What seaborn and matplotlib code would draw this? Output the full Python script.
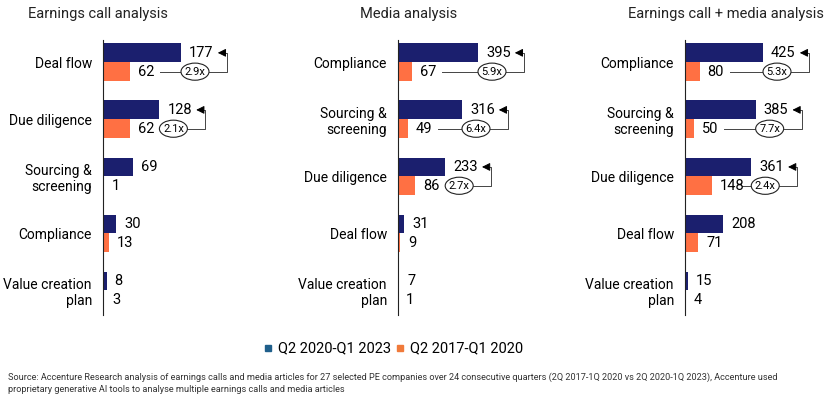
import matplotlib
matplotlib.use("Agg")
import matplotlib.pyplot as plt
import seaborn as sns
import pandas as pd
from matplotlib.patches import Ellipse, Rectangle

series = ["Q2 2020-Q1 2023", "Q2 2017-Q1 2020"]
titles = ["Earnings call analysis", "Media analysis", "Earnings call + media analysis"]
cats1 = ["Deal flow", "Due diligence", "Sourcing &\nscreening", "Compliance", "Value creation\nplan"]
new1 = [177, 128, 69, 30, 8]
old1 = [62, 62, 1, 13, 3]
cats2 = ["Compliance", "Sourcing &\nscreening", "Due diligence", "Deal flow", "Value creation\nplan"]
new2 = [395, 316, 233, 31, 7]
old2 = [67, 49, 86, 9, 1]
cats3 = ["Compliance", "Sourcing &\nscreening", "Due diligence", "Deal flow", "Value creation\nplan"]
new3 = [425, 385, 361, 208, 15]
old3 = [80, 50, 148, 71, 4]
ratios1 = ["2.9x", "2.1x"]
ratios2 = ["5.9x", "6.4x", "2.7x"]
ratios3 = ["5.3x", "7.7x", "2.4x"]

NAVY = "#1b1f6e"
ORANGE = "#ff7043"
plt.rcParams["font.family"] = "Roboto"

fig = plt.figure(figsize=(8.3, 4.03), dpi=100)
W, H = 830, 403
panels = [
    (cats1, new1, old1, ratios1, 103, 78 / 177),
    (cats2, new2, old2, ratios2, 398, 80 / 395),
    (cats3, new3, old3, ratios3, 685, 78 / 425),
]
title_x = [28, 360, 628]
wpx = 140
for i, (cats, new, old, ratios, left, p) in enumerate(panels):
    ax = fig.add_axes([left / W, 1 - 315 / H, wpx / W, 275 / H])
    df = pd.DataFrame({
        "cat": cats * 2,
        "val": new + old,
        "ser": [series[0]] * len(cats) + [series[1]] * len(cats),
    })
    sns.barplot(data=df, y="cat", x="val", hue="ser", order=cats, hue_order=series,
                palette=[NAVY, ORANGE], saturation=1, orient="h", width=0.66, dodge=True,
                ax=ax, legend=False)
    ax.set_xlim(0, wpx / p)
    ax.set_ylim(4.43, -0.39)
    ax.set_xlabel(""); ax.set_ylabel("")
    ax.set_xticks([])
    for s in ["top", "right", "bottom"]:
        ax.spines[s].set_visible(False)
    ax.spines["left"].set_color("#222")
    ax.tick_params(axis="y", length=0, labelsize=10, pad=8)
    off = 0.165
    for j, (a, b) in enumerate(zip(new, old)):
        ax.text(a + 8 / p, j - off, str(a), va="center", ha="left", fontsize=10.5)
        ax.text(b + 8 / p, j + off, str(b), va="center", ha="left", fontsize=10.5)
    for j, r in enumerate(ratios):
        a, b = new[j], old[j]
        ex = a + 14 / p
        bx = a + 46 / p
        tip = a + 34 / p
        ew = 28 / p
        ax.add_patch(Ellipse((ex, j + off), ew, 0.3, facecolor="white", edgecolor="#222",
                             lw=0.8, zorder=3, clip_on=False))
        ax.text(ex, j + off, r, ha="center", va="center", fontsize=8, zorder=4)
        ax.plot([b + 30 / p, ex - ew / 2], [j + off, j + off], color="#444", lw=0.7, clip_on=False)
        ax.plot([ex + ew / 2, bx, bx, tip + 9 / p], [j + off, j + off, j - off, j - off],
                color="#444", lw=0.7, clip_on=False)
        ax.annotate("", xy=(tip, j - off), xytext=(tip + 10 / p, j - off),
                    arrowprops=dict(arrowstyle="-|>", color="black", lw=0.7, mutation_scale=12),
                    annotation_clip=False)
    fig.text(title_x[i] / W, 1 - 14 / H, titles[i], fontsize=10.5, ha="left", va="center", color="#222")

for mx, col, lab in [(265, "#1f5f8b", series[0]), (397, "#f07a3a", series[1])]:
    fig.patches.append(Rectangle((mx / W, 1 - 351 / H), 6 / W, 6 / H, color=col,
                                 transform=fig.transFigure, figure=fig))
    fig.text((mx + 13) / W, 1 - 348 / H, lab, fontsize=10.5, va="center", ha="left")
fig.text(8 / W, 1 - 377 / H, "Source: Accenture Research analysis of earnings calls and media articles for 27 selected PE companies over 24 consecutive quarters (2Q 2017-1Q 2020 vs 2Q 2020-1Q 2023), Accenture used", fontsize=6.6, va="center", color="#333")
fig.text(8 / W, 1 - 390 / H, "proprietary generative AI tools to analyse multiple earnings calls and media articles", fontsize=6.6, va="center", color="#333")
fig.savefig("out.png", dpi=100)
